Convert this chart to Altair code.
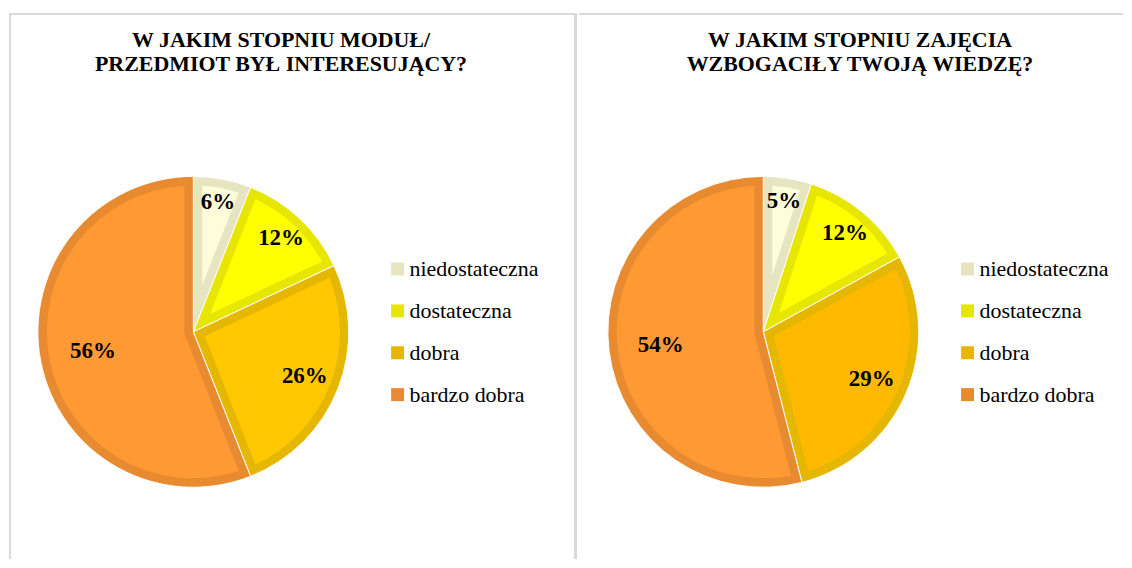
import altair as alt
import pandas as pd

# ---- data ----
categories = ["niedostateczna", "dostateczna", "dobra", "bardzo dobra"]
left_values = [6, 12, 26, 56]
right_values = [5, 12, 29, 54]
left_title = ["W JAKIM STOPNIU MODUŁ/", "PRZEDMIOT BYŁ INTERESUJĄCY?"]
right_title = ["W JAKIM STOPNIU ZAJĘCIA", "WZBOGACIŁY TWOJĄ WIEDZĘ?"]

# ---- styles ----
border_colors = ["#E7E4C1", "#E6E600", "#E6B700", "#E88A30"]
fill_left = ["#FFFDD9", "#FFFF00", "#FFC800", "#FF9933"]
fill_right = ["#FFFDD9", "#FFFF00", "#FFB900", "#FF9933"]
GRID = "#D9D9D9"
SERIF = "Liberation Serif"

R = 156      # pie radius
D = 9        # inset border width
H = 552      # panel height


def panel(values, fills, title_lines, cx, cy, title_x, legend_x, width, left_border, divider):
    df = pd.DataFrame({
        "kategoria": categories,
        "procent": values,
        "kolejnosc": list(range(len(categories))),
    })
    base = alt.Chart(df).transform_joinaggregate(
        total="sum(procent)"
    ).transform_window(
        cum="sum(procent)", sort=[alt.SortField("kolejnosc")], frame=[None, 0]
    ).transform_calculate(
        half="PI*datum.procent/datum.total",
        mid="2*PI*(datum.cum-datum.procent/2)/datum.total",
    ).transform_calculate(
        r0=f"{D}/max(abs(sin(datum.half)), 0.02)",
        r1=f"{R - D}",
    ).transform_calculate(
        pa=f"2*asin({D}/sqrt(datum.r0*datum.r0+{(R - D) ** 2}))",
        lr=f"{R}*(0.87-0.38*datum.procent/datum.total)",
        etykieta='datum.procent + "%"',
    )
    theta = alt.Theta("procent:Q", stack=True)
    order = alt.Order("kolejnosc:O")
    pos = dict(x=alt.value(cx), y=alt.value(cy))

    outer = base.mark_arc(radius=R, stroke="white", strokeWidth=1).encode(
        theta=theta, order=order,
        color=alt.Color(
            "kategoria:N",
            scale=alt.Scale(domain=categories, range=border_colors),
            legend=alt.Legend(
                orient="none", legendX=legend_x, legendY=250, title=None,
                symbolType="square", symbolSize=169, symbolStrokeWidth=0,
                labelFont=SERIF, labelFontSize=22, labelColor="#000000",
                rowPadding=20, labelOffset=1, padding=0, labelLimit=300,
            ),
        ),
        **pos,
    )
    inner = base.mark_arc(padAngle={"expr": "datum.pa"}).encode(
        theta=theta, order=order,
        fill=alt.Fill("kategoria:N", scale=alt.Scale(domain=categories, range=fills), legend=None),
        radius=alt.Radius("r1:Q", scale=None),
        radius2=alt.Radius2("r0"),
        **pos,
    )
    labels = base.mark_text(font=SERIF, fontSize=23, fontWeight="bold", color="#000000").encode(
        theta=alt.Theta("mid:Q", scale=None),
        radius=alt.Radius("lr:Q", scale=None),
        text="etykieta:N",
        **pos,
    )

    one = alt.Data(values=[{"k": 0}])
    title = alt.Chart(one).mark_text(
        font=SERIF, fontSize=22, fontWeight="bold", color="#000000",
        align="center", baseline="alphabetic", lineHeight=24.4,
    ).encode(x=alt.value(title_x), y=alt.value(37.7), text=alt.value(title_lines))

    layers = [
        alt.Chart(one).mark_rule(color=GRID, strokeWidth=2).encode(
            x=alt.value(0), x2=alt.value(width), y=alt.value(5)),
    ]
    if left_border:
        layers.append(alt.Chart(one).mark_rule(color=GRID, strokeWidth=2).encode(
            x=alt.value(1), y=alt.value(4), y2=alt.value(H)))
    if divider:
        layers.append(alt.Chart(one).mark_rule(color=GRID, strokeWidth=3).encode(
            x=alt.value(width - 1.5), y=alt.value(4), y2=alt.value(H)))
    layers += [outer, inner, labels, title]
    return alt.layer(*layers).properties(width=width, height=H)


left = panel(left_values, fill_left, left_title, cx=185, cy=324, title_x=273,
             legend_x=379, width=570, left_border=True, divider=True)
right = panel(right_values, fill_right, right_title, cx=185, cy=324, title_x=282,
              legend_x=379, width=546, left_border=False, divider=False)

chart = alt.hconcat(left, right, spacing=0).resolve_scale(
    color="independent", fill="independent"
).resolve_legend(color="independent").configure_view(stroke=None).properties(
    padding=0, background="white"
)

chart.save("out.html", embed_options={"renderer": "svg", "actions": False})
